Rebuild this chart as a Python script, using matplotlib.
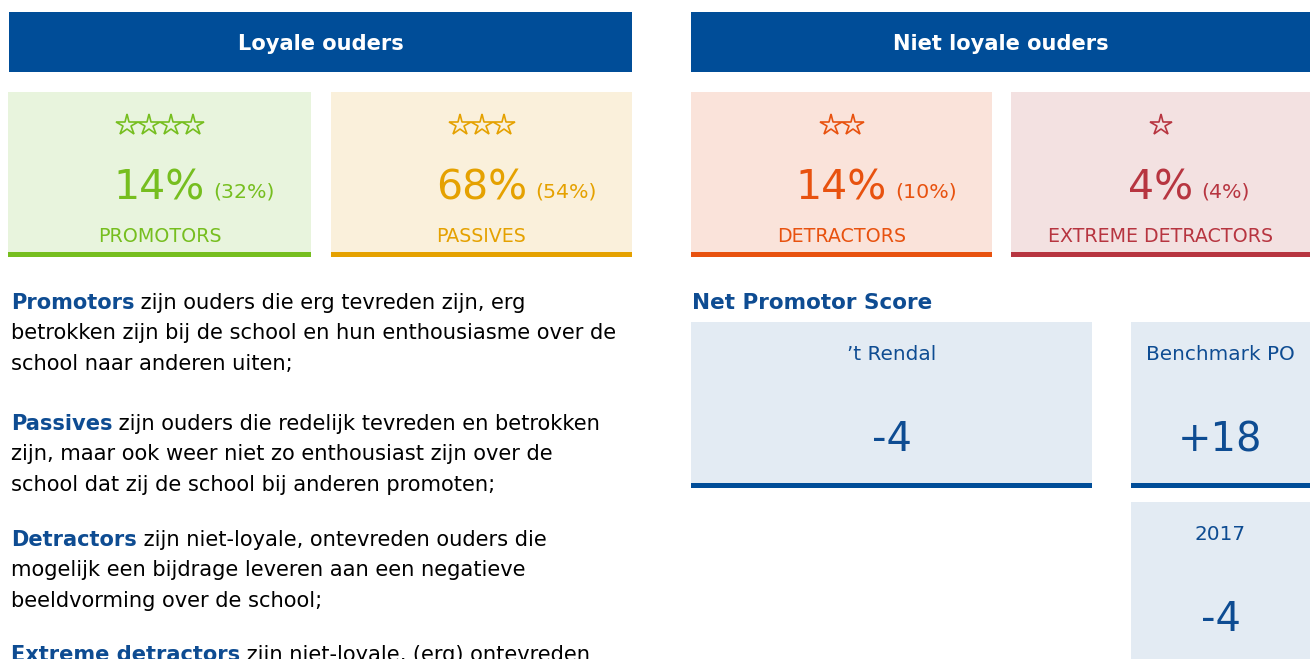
import matplotlib
matplotlib.use("Agg")
import matplotlib.pyplot as plt
from matplotlib.patches import Rectangle

# ---- data ----
groups = ["Loyale ouders", "Niet loyale ouders"]
categories = ["PROMOTORS", "PASSIVES", "DETRACTORS", "EXTREME DETRACTORS"]
stars = [4, 3, 2, 1]
pct_now = [14, 68, 14, 4]
pct_bench = [32, 54, 10, 4]
nps_title = "Net Promotor Score"
nps_labels = ["\u2019t Rendal", "Benchmark PO", "2017"]
nps_values = ["-4", "+18", "-4"]

paragraphs = [
    ("Promotors", [" zijn ouders die erg tevreden zijn, erg",
                   "betrokken zijn bij de school en hun enthousiasme over de",
                   "school naar anderen uiten;"]),
    ("Passives", [" zijn ouders die redelijk tevreden en betrokken",
                  "zijn, maar ook weer niet zo enthousiast zijn over de",
                  "school dat zij de school bij anderen promoten;"]),
    ("Detractors", [" zijn niet-loyale, ontevreden ouders die",
                    "mogelijk een bijdrage leveren aan een negatieve",
                    "beeldvorming over de school;"]),
    ("Extreme detractors", [" zijn niet-loyale, (erg) ontevreden"]),
]

# ---- styles ----
BLUE = "#004D98"
TXTBLUE = "#0E4C92"
accent = ["#76BE1F", "#E5A100", "#E8520F", "#B73540"]
cardbg = ["#E8F4DD", "#FAF0DB", "#FAE3DA", "#F3E1E1"]
NPSBG = "#E3EBF3"
FONT = "DejaVu Sans"
PX = 0.72  # points per pixel at dpi=100
para_y = [303, 424, 540, 655]
line_h = 30.3

W, H = 1310, 659
fig = plt.figure(figsize=(W / 100, H / 100), dpi=100)
ax = fig.add_axes([0, 0, 1, 1])
ax.set_xlim(0, W)
ax.set_ylim(H, 0)
ax.axis("off")
renderer = fig.canvas.get_renderer()
inv = ax.transData.inverted()

# headers
hdr = [(9, 632), (691, 1310)]
for (x0, x1), g in zip(hdr, groups):
    ax.add_patch(Rectangle((x0, 12), x1 - x0, 60, color=BLUE, lw=0))
    ax.text((x0 + x1) / 2, 44, g, ha="center", va="center", color="white",
            fontsize=21 * PX, fontweight="bold", family=FONT)

# cards
cards = [(8, 311), (331, 632), (691, 992), (1011, 1310)]
for i, (x0, x1) in enumerate(cards):
    ax.add_patch(Rectangle((x0, 92), x1 - x0, 160, color=cardbg[i], lw=0))
    ax.add_patch(Rectangle((x0, 252), x1 - x0, 5, color=accent[i], lw=0))
    cx = (x0 + x1) / 2
    n = stars[i]
    sp = 22
    xs = [cx + (k - (n - 1) / 2) * sp for k in range(n)]
    ax.plot(xs, [125] * n, ls="none", marker="*", ms=16, mfc="none",
            mec=accent[i], mew=1.2)
    t1 = ax.text(cx, 200, f"{pct_now[i]}%", ha="center", va="baseline",
                 color=accent[i], fontsize=41 * PX, family=FONT)
    bb = t1.get_window_extent(renderer)
    xr = inv.transform((bb.x1, bb.y0))[0]
    ax.text(xr + 8, 198, f"({pct_bench[i]}%)", ha="left", va="baseline",
            color=accent[i], fontsize=20.5 * PX, family=FONT)
    ax.text(cx, 236, categories[i], ha="center", va="center", color=accent[i],
            fontsize=19 * PX, family=FONT)

# paragraphs
for (bold, lines), y in zip(paragraphs, para_y):
    t = ax.text(11, y, bold, ha="left", va="center", color=TXTBLUE,
                fontweight="bold", fontsize=21 * PX, family=FONT)
    ax.annotate(lines[0], xy=(1, 0), xycoords=t, ha="left", va="bottom",
                color="black", fontsize=21 * PX, family=FONT)
    for k, ln in enumerate(lines[1:], start=1):
        ax.text(11, y + line_h * k, ln, ha="left", va="center", color="black",
                fontsize=21 * PX, family=FONT)

# NPS
ax.text(692, 303, nps_title, ha="left", va="center", color=TXTBLUE,
        fontweight="bold", fontsize=21.5 * PX, family=FONT)
boxes = [(691, 1092, 322, 483), (1131, 1310, 322, 483), (1131, 1310, 502, 680)]
for (x0, x1, y0, y1), lab, val in zip(boxes, nps_labels, nps_values):
    ax.add_patch(Rectangle((x0, y0), x1 - x0, y1 - y0, color=NPSBG, lw=0))
    if y1 < H:
        ax.add_patch(Rectangle((x0, y1), x1 - x0, 5, color=BLUE, lw=0))
    cx = (x0 + x1) / 2
    ax.text(cx, y0 + 33, lab, ha="center", va="center", color=TXTBLUE,
            fontsize=20 * PX, family=FONT)
    ax.text(cx, y0 + 118, val, ha="center", va="center", color=TXTBLUE,
            fontsize=40 * PX, family=FONT)

fig.savefig("out.png", dpi=100)
